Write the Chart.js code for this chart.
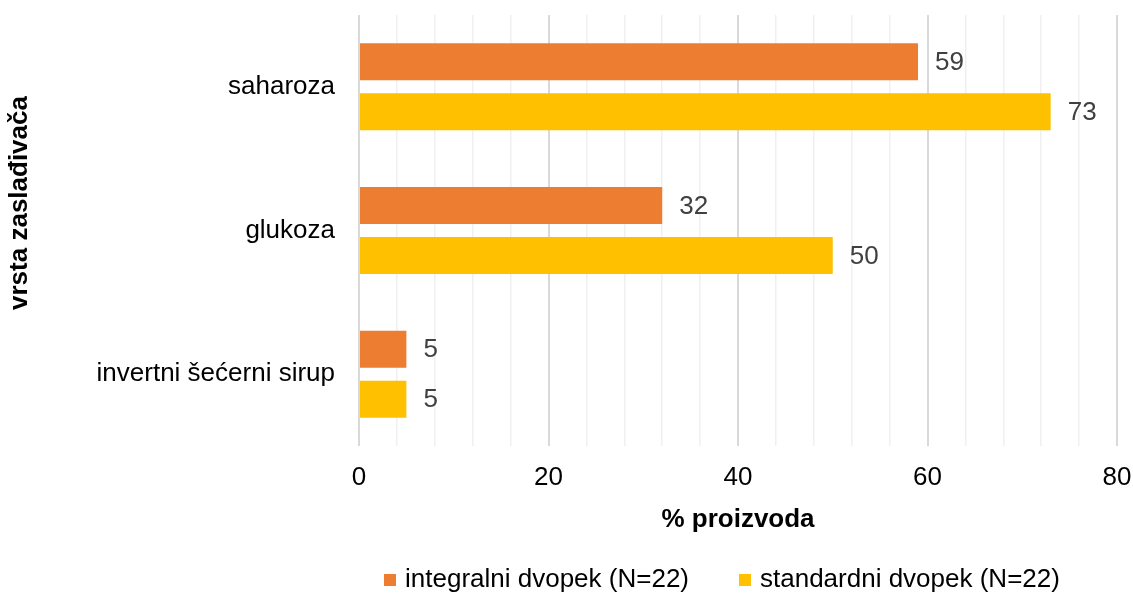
<!DOCTYPE html>
<html>
<head>
<meta charset="utf-8">
<script src="https://cdn.jsdelivr.net/npm/chart.js@4/dist/chart.umd.min.js"></script>
<style>
  html, body { margin: 0; padding: 0; background: #fff; }
  #wrap { width: 1133px; height: 593px; position: relative; }
</style>
</head>
<body>
<div id="wrap"><canvas id="myChart"></canvas></div>
<script>
// data
const categories = ["saharoza", "glukoza", "invertni šećerni sirup"];
const integralni = [59, 32, 5];
const standardni = [73, 50, 5];
const seriesNames = ["integralni dvopek (N=22)", "standardni dvopek (N=22)"];
const seriesColors = ["#ED7D31", "#FFC000"];
const xTicks = [0, 20, 40, 60, 80];

const FONT = "'Liberation Sans', Arial, sans-serif";
const FS = 26;

// value labels next to the bars
const valueLabels = {
  id: "valueLabels",
  afterDatasetsDraw(chart) {
    const ctx = chart.ctx;
    ctx.save();
    ctx.font = FS + "px " + FONT;
    ctx.fillStyle = "#404040";
    ctx.textAlign = "left";
    ctx.textBaseline = "middle";
    chart.data.datasets.forEach((ds, i) => {
      chart.getDatasetMeta(i).data.forEach((bar, j) => {
        ctx.fillText(ds.data[j], bar.x + 17, bar.y + 1);
      });
    });
    ctx.restore();
  }
};

// y axis title and legend drawn by hand
const extras = {
  id: "extras",
  afterDraw(chart) {
    const ctx = chart.ctx;
    ctx.save();
    ctx.font = "bold " + FS + "px " + FONT;
    ctx.fillStyle = "#000";
    ctx.textAlign = "center";
    ctx.textBaseline = "middle";
    ctx.translate(20, 203);
    ctx.rotate(-Math.PI / 2);
    ctx.fillText("vrsta zaslađivača", 0, 0);
    ctx.restore();

    ctx.save();
    ctx.font = FS + "px " + FONT;
    ctx.textBaseline = "middle";
    ctx.textAlign = "left";
    let x = 384;
    const y = 580;
    seriesNames.forEach((name, i) => {
      ctx.fillStyle = seriesColors[i];
      ctx.fillRect(x, y - 6, 12, 12);
      ctx.fillStyle = "#000";
      ctx.fillText(name, x + 21, y);
      x += 21 + ctx.measureText(name).width + 50;
    });
    ctx.restore();
  }
};

const data = {
  labels: categories,
  datasets: [
    {
      label: seriesNames[0],
      data: integralni,
      backgroundColor: seriesColors[0],
      categoryPercentage: 0.696,
      barPercentage: 0.74,
    },
    {
      label: seriesNames[1],
      data: standardni,
      backgroundColor: seriesColors[1],
      categoryPercentage: 0.696,
      barPercentage: 0.74,
    },
  ],
};

const config = {
  type: "bar",
  data,
  plugins: [valueLabels, extras],
  options: {
    indexAxis: "y",
    responsive: true,
    maintainAspectRatio: false,
    animation: false,
    layout: { padding: { top: 0, right: 0, left: 0, bottom: 58 } },
    plugins: {
      legend: { display: false },
      tooltip: { enabled: false },
    },
    scales: {
      x: {
        min: 0,
        max: 80,
        ticks: {
          stepSize: 4,
          autoSkip: false,
          maxRotation: 0,
          padding: 16,
          color: "#000",
          font: { family: FONT, size: FS },
          callback: (v) => (xTicks.includes(v) ? v : ""),
        },
        grid: {
          drawTicks: false,
          color: (c) => (c.tick && c.tick.value % 20 === 0 ? "#d9d9d9" : "#f0f0f0"),
          lineWidth: (c) => (c.tick && c.tick.value % 20 === 0 ? 2 : 1.5),
        },
        border: { display: false },
        title: {
          display: true,
          text: "% proizvoda",
          color: "#000",
          font: { family: FONT, size: FS, weight: "bold" },
          padding: { top: 0, bottom: 0 },
        },
        afterFit: (scale) => {
          scale.height = 89;
          scale.paddingLeft = 0;
          scale.paddingRight = 16;
        },
      },
      y: {
        ticks: {
          padding: 24,
          color: "#000",
          font: { family: FONT, size: FS },
        },
        grid: { display: false, drawTicks: false },
        border: { display: false },
        afterFit: (scale) => {
          scale.width = 359;
          scale.paddingTop = 15;
          scale.paddingBottom = 0;
        },
      },
    },
  },
};

const myChart = new Chart(document.getElementById("myChart"), config);
</script>
</body>
</html>
